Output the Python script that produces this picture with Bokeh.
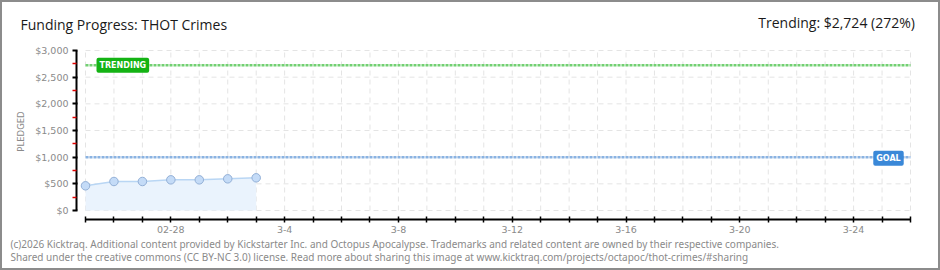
import math
import pandas as pd
from bokeh.plotting import figure
from bokeh.models import Range1d, FixedTicker, Label
from bokeh.embed import file_html
from bokeh.resources import INLINE

# ---------------- data ----------------
title_text = "Funding Progress: THOT Crimes"
start_date = "2026-02-25"
end_date = "2026-03-26"
dates = ["2026-02-25", "2026-02-26", "2026-02-27", "2026-02-28",
         "2026-03-01", "2026-03-02", "2026-03-03"]
pledged = [463, 544, 544, 575, 575, 594, 613]
goal = 1000
trending = 2724
trending_pct = 272
y_ticks = [0, 500, 1000, 1500, 2000, 2500, 3000]
y_tick_labels = ["$0", "$500", "$1,000", "$1,500", "$2,000", "$2,500", "$3,000"]
x_label_dates = ["2026-02-28", "2026-03-04", "2026-03-08", "2026-03-12",
                 "2026-03-16", "2026-03-20", "2026-03-24"]
x_tick_labels = ["02-28", "3-4", "3-8", "3-12", "3-16", "3-20", "3-24"]
footer1 = ("(c)2026 Kicktraq. Additional content provided by Kickstarter Inc. and Octopus "
           "Apocalypse. Trademarks and related content are owned by their respective companies.")
footer2 = ("Shared under the creative commons (CC BY-NC 3.0) license. Read more about sharing "
           "this image at www.kicktraq.com/projects/octapoc/thot-crimes/#sharing")

# ---------------- derived ----------------
t0 = pd.Timestamp(start_date)
day = lambda d: (pd.Timestamp(d) - t0).days
xs = [day(d) for d in dates]
n_days = day(end_date)
all_days = list(range(0, n_days + 1))
label_days = [day(d) for d in x_label_dates]

# layout geometry (pixels on the canvas)
W, H = 940, 270
X0PX, X1PX = 85, 910                # pixels of first / last day
Y0PX, Y1PX = 210, 50                # pixels of $0 / $3,000
YAX_PX = 76                         # y axis line
XAX_PX = 219                        # x axis line
ppd = (X1PX - X0PX) / n_days
dpp = (y_ticks[-1] - y_ticks[0]) / (Y0PX - Y1PX)

def px2x(px):
    return (px - X0PX) / ppd

def py2y(py):
    return (Y0PX - py) * dpp

p = figure(width=W, height=H, output_backend="svg", toolbar_location=None,
           x_range=Range1d(px2x(0), px2x(W)), y_range=Range1d(py2y(H), py2y(0)),
           min_border=0)
p.frame_width = W
p.frame_height = H
p.outline_line_color = None
p.xgrid.visible = False
p.ygrid.visible = False
p.background_fill_color = None
p.border_fill_color = None
p.styles = {"box-shadow": "inset 0 0 0 2px #8c8c8c"}

grid_color = "#e4e4e4"
p.multi_line(xs=[[all_days[0], all_days[-1]] for _ in y_ticks],
             ys=[[v, v] for v in y_ticks], line_color=grid_color,
             line_dash="5 4", line_width=1)
p.multi_line(xs=[[d, d] for d in all_days],
             ys=[[y_ticks[0], y_ticks[-1]] for _ in all_days], line_color=grid_color,
             line_dash="5 4", line_width=1)

# area, line, points
p.varea(x=xs, y1=[0] * len(xs), y2=pledged, fill_color="#eaf3fd", fill_alpha=1)
p.line(xs, pledged, line_color="#b9d6f4", line_width=1.5)
p.scatter(xs, pledged, size=8.5, fill_color="#c4dbf7", line_color="#92afd6", line_width=1)

# goal / trending lines
p.line([all_days[0], all_days[-1]], [goal, goal], line_color="#8ab3e2",
       line_width=2.5, line_dash="3 1")
p.line([all_days[0], all_days[-1]], [trending, trending], line_color="#72d072",
       line_width=2.5, line_dash="3 1")

# badges
p.add_layout(Label(x=px2x(93), y=trending, text="TRENDING", text_align="left",
                   text_baseline="middle", text_color="white", text_font="DejaVu Sans",
                   text_font_size="8px", text_font_style="bold",
                   background_fill_color="#14b314", padding=3, border_radius=2,
                   x_offset=3))
p.add_layout(Label(x=px2x(888), y=goal, text="GOAL", text_align="center",
                   text_baseline="middle", text_color="white", text_font="DejaVu Sans",
                   text_font_size="8px", text_font_style="bold",
                   background_fill_color="#3a88d8", padding=3, border_radius=2,
                   y_offset=-1))

# axes (drawn at fixed locations inside the full-canvas frame)
yax = p.yaxis[0]
yax.fixed_location = px2x(YAX_PX)
yax.ticker = FixedTicker(ticks=y_ticks,
                         minor_ticks=[(a + b) / 2 for a, b in zip(y_ticks[:-1], y_ticks[1:])])
yax.major_label_overrides = {v: s for v, s in zip(y_ticks, y_tick_labels)}
yax.bounds = (y_ticks[0], y_ticks[-1])
yax.axis_line_color = "black"
yax.axis_line_width = 2
yax.major_tick_line_color = "black"
yax.major_tick_line_width = 2
yax.major_tick_out = 4
yax.major_tick_in = 1
yax.minor_tick_line_color = "#e00000"
yax.minor_tick_line_width = 1.5
yax.minor_tick_out = 4
yax.minor_tick_in = 0
yax.major_label_text_color = "#8a8a8a"
yax.major_label_text_font = "DejaVu Sans"
yax.major_label_text_font_size = "9.5px"
yax.major_label_standoff = 4

xax = p.xaxis[0]
xax.fixed_location = py2y(XAX_PX)
xax.ticker = FixedTicker(ticks=all_days)
overrides = {d: "" for d in all_days}
overrides.update({d: s for d, s in zip(label_days, x_tick_labels)})
xax.major_label_overrides = overrides
xax.bounds = (all_days[0], all_days[-1])
xax.axis_line_color = "black"
xax.axis_line_width = 2
xax.major_tick_line_color = "black"
xax.major_tick_line_width = 1.5
xax.major_tick_out = 3
xax.major_tick_in = 3
xax.minor_tick_line_color = None
xax.major_label_text_color = "#8a8a8a"
xax.major_label_text_font = "DejaVu Sans"
xax.major_label_text_font_size = "9.5px"
xax.major_label_standoff = 3

# texts: screen units from the frame's (= canvas') bottom-left corner
def add_text(px, py, text, size, color, align="left", font="Open Sans", angle=0.0):
    p.add_layout(Label(x=px, y=H - py, x_units="screen", y_units="screen", text=text,
                       text_align=align, text_baseline="middle", text_color=color,
                       text_font=font, text_font_size=size, angle=angle))

add_text(20, 24, title_text, "14px", "#1a1a1a")
add_text(918, 22, f"Trending:  ${trending:,} ({trending_pct}%)", "14px", "#1a1a1a", align="right")
add_text(20, 131, "PLEDGED", "8.5px", "#8a8a8a", align="center", font="DejaVu Sans",
         angle=math.pi / 2)
add_text(10, 243, footer1, "10px", "#8a8a8a", font="Noto Sans")
add_text(10, 256, footer2, "10px", "#8a8a8a", font="Noto Sans")

open("out.html", "w").write(file_html(p, INLINE))
